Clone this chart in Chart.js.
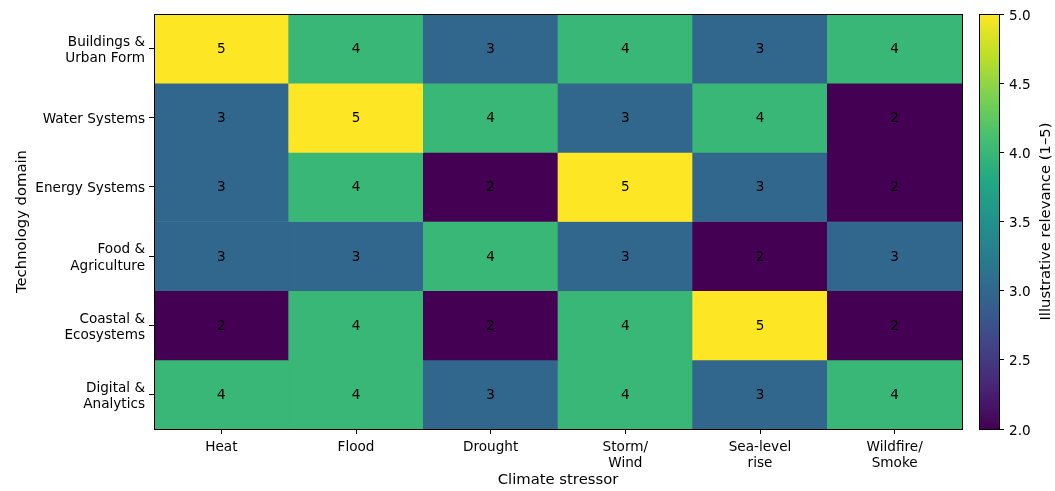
<!DOCTYPE html>
<html>
<head>
<meta charset="utf-8">
<script src="https://cdn.jsdelivr.net/npm/chart.js@4"></script>
<style>
  html, body { margin: 0; padding: 0; background: #fff; }
  #wrap { position: relative; width: 1055px; height: 491px; }
  #heat { position: absolute; left: 0; top: 0; }
  #cbar { position: absolute; left: 970px; top: 0; }
</style>
</head>
<body>
<div id="wrap">
  <canvas id="heat" width="975" height="491"></canvas>
  <canvas id="cbar" width="85" height="491"></canvas>
</div>
<script>
// Dados do heatmap
const estressores = [["Heat"], ["Flood"], ["Drought"], ["Storm/", "Wind"], ["Sea-level", "rise"], ["Wildfire/", "Smoke"]];
const dominios = [
    ["Buildings &", "Urban Form"],
    ["Water Systems"],
    ["Energy Systems"],
    ["Food &", "Agriculture"],
    ["Coastal &", "Ecosystems"],
    ["Digital &", "Analytics"]
];
const linhaBuildings = [5, 4, 3, 4, 3, 4];
const linhaWater = [3, 5, 4, 3, 4, 2];
const linhaEnergy = [3, 4, 2, 5, 3, 2];
const linhaFood = [3, 3, 4, 3, 2, 3];
const linhaCoastal = [2, 4, 2, 4, 5, 2];
const linhaDigital = [4, 4, 3, 4, 3, 4];
const valores = [linhaBuildings, linhaWater, linhaEnergy, linhaFood, linhaCoastal, linhaDigital];
const escalaMin = 2, escalaMax = 5;
const ticksBarra = [2.0, 2.5, 3.0, 3.5, 4.0, 4.5, 5.0];

// paleta viridis (paradas do colormap)
const viridis = ["#440154", "#482475", "#414487", "#355f8d", "#2a788e", "#21918c", "#22a884", "#44bf70", "#7ad151", "#bddf26", "#fde725"];

function hexRgb(h) {
    return [parseInt(h.slice(1, 3), 16), parseInt(h.slice(3, 5), 16), parseInt(h.slice(5, 7), 16)];
}

function corViridis(v) {
    let t = (v - escalaMin) / (escalaMax - escalaMin);
    t = Math.max(0, Math.min(1, t));
    const pos = t * (viridis.length - 1);
    const i = Math.min(Math.floor(pos), viridis.length - 2);
    const f = pos - i;
    const a = hexRgb(viridis[i]), b = hexRgb(viridis[i + 1]);
    const c = a.map((x, k) => Math.round(x + (b[k] - x) * f));
    return `rgb(${c[0]},${c[1]},${c[2]})`;
}

const fonte = "'DejaVu Sans', sans-serif";
const tamTick = 13.6;
const tamTitulo = 14.8;

// escreve o valor no centro de cada célula
const rotulosCelulas = {
    id: "rotulosCelulas",
    afterDatasetsDraw(chart) {
        const ctx = chart.ctx;
        ctx.save();
        ctx.font = tamTick + "px " + fonte;
        ctx.fillStyle = "#000";
        ctx.textAlign = "center";
        ctx.textBaseline = "middle";
        chart.data.datasets.forEach((ds, di) => {
            chart.getDatasetMeta(di).data.forEach((el, j) => {
                ctx.fillText(String(valores[di][j]), el.x, (el.y + el.base) / 2 + 1);
            });
        });
        ctx.restore();
    }
};

// moldura preta em volta da área do gráfico
const moldura = {
    id: "moldura",
    afterDraw(chart) {
        const a = chart.chartArea;
        const ctx = chart.ctx;
        ctx.save();
        ctx.strokeStyle = "#000";
        ctx.lineWidth = 1;
        ctx.strokeRect(Math.round(a.left) + 0.5, Math.round(a.top) + 0.5, Math.round(a.right - a.left), Math.round(a.bottom - a.top));
        ctx.restore();
    }
};

Chart.defaults.font.family = fonte;
Chart.defaults.color = "#000";

new Chart(document.getElementById("heat"), {
    type: "bar",
    data: {
        labels: estressores,
        datasets: valores.map((linha, i) => ({
            label: dominios[i].join(" "),
            data: linha.map(() => [i, i + 1]),
            backgroundColor: linha.map(v => corViridis(v)),
            borderWidth: 0,
            barPercentage: 1,
            categoryPercentage: 1
        }))
    },
    options: {
        responsive: false,
        animation: false,
        layout: { padding: { top: 14, right: 13, bottom: 0, left: 0 } },
        plugins: { legend: { display: false }, tooltip: { enabled: false } },
        scales: {
            x: {
                stacked: true,
                grid: { display: true, drawOnChartArea: false, offset: false, tickLength: 5, color: "#000" },
                border: { display: true, color: "#000" },
                ticks: { font: { size: tamTick }, padding: 5, maxRotation: 0 },
                title: { display: true, text: "Climate stressor", font: { size: tamTitulo }, padding: { top: 0, bottom: 2 } },
                afterFit(s) { s.height = 62; s.paddingLeft = 0; s.paddingRight = 0; }
            },
            y: {
                type: "linear",
                min: 0,
                max: 6,
                reverse: true,
                afterBuildTicks(s) { s.ticks = dominios.map((_, i) => ({ value: i + 0.5 })); },
                grid: { display: true, drawOnChartArea: false, tickLength: 5, color: "#000" },
                border: { display: true, color: "#000" },
                ticks: {
                    font: { size: tamTick },
                    padding: 4,
                    labelOffset: 2,
                    callback: v => dominios[Math.floor(v)]
                },
                title: { display: true, text: "Technology domain", font: { size: tamTitulo }, padding: { top: 13, bottom: 0 } },
                afterFit(s) { s.width = 154; s.paddingTop = 0; s.paddingBottom = 0; }
            }
        }
    },
    plugins: [rotulosCelulas, moldura]
});

// barra de cores
const tituloBarra = {
    id: "tituloBarra",
    afterDraw(chart) {
        const a = chart.chartArea;
        const ctx = chart.ctx;
        ctx.save();
        ctx.translate(76, (a.top + a.bottom) / 2);
        ctx.rotate(-Math.PI / 2);
        ctx.font = tamTitulo + "px " + fonte;
        ctx.fillStyle = "#000";
        ctx.textAlign = "center";
        ctx.textBaseline = "middle";
        ctx.fillText("Illustrative relevance (1\u20135)", 0, 0);
        ctx.restore();
    }
};

function gradienteBarra(context) {
    const a = context.chart.chartArea;
    if (!a) return viridis[0];
    const g = context.chart.ctx.createLinearGradient(0, a.bottom, 0, a.top);
    viridis.forEach((c, i) => g.addColorStop(i / (viridis.length - 1), c));
    return g;
}

new Chart(document.getElementById("cbar"), {
    type: "bar",
    data: {
        labels: [""],
        datasets: [{
            data: [[escalaMin, escalaMax]],
            backgroundColor: gradienteBarra,
            borderWidth: 0,
            barPercentage: 1,
            categoryPercentage: 1
        }]
    },
    options: {
        responsive: false,
        animation: false,
        layout: { padding: { top: 14, right: 0, bottom: 62, left: 9 } },
        plugins: { legend: { display: false }, tooltip: { enabled: false } },
        scales: {
            x: { display: false },
            y: {
                position: "right",
                min: escalaMin,
                max: escalaMax,
                afterBuildTicks(s) { s.ticks = ticksBarra.map(v => ({ value: v })); },
                grid: { display: true, drawOnChartArea: false, tickLength: 5, color: "#000" },
                border: { display: true, color: "#000" },
                ticks: { font: { size: tamTick }, padding: 5, labelOffset: 2, callback: v => v.toFixed(1) },
                afterFit(s) { s.width = 56; s.paddingTop = 0; s.paddingBottom = 0; }
            }
        }
    },
    plugins: [tituloBarra, moldura]
});
</script>
</body>
</html>
